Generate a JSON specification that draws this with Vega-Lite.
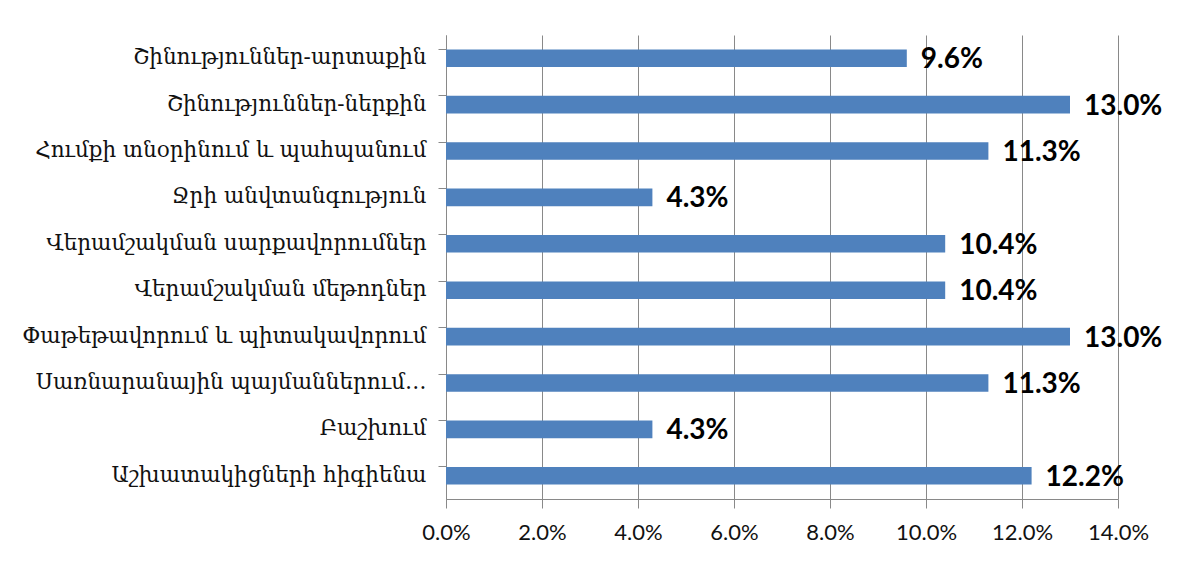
{
  "$schema": "https://vega.github.io/schema/vega-lite/v6.json",
  "width": 672,
  "height": 464,
  "autosize": {"type": "none"},
  "padding": {"left": 446, "top": 35, "right": 66, "bottom": 63},
  "background": "#ffffff",
  "data": {
    "values": [
      {"category": "Շինություններ-արտաքին", "value": 0.096},
      {"category": "Շինություններ-ներքին", "value": 0.130},
      {"category": "Հումքի տնօրինում և պահպանում", "value": 0.113},
      {"category": "Ջրի անվտանգություն", "value": 0.043},
      {"category": "Վերամշակման սարքավորումներ", "value": 0.104},
      {"category": "Վերամշակման մեթոդներ", "value": 0.104},
      {"category": "Փաթեթավորում և պիտակավորում", "value": 0.130},
      {"category": "Սառնարանային պայմաններում…", "value": 0.113},
      {"category": "Բաշխում", "value": 0.043},
      {"category": "Աշխատակիցների հիգիենա", "value": 0.122}
    ]
  },
  "config": {
    "view": {"stroke": null},
    "axis": {"domainColor": "#898989", "tickColor": "#898989", "gridColor": "#898989"}
  },
  "encoding": {
    "y": {
      "field": "category",
      "type": "nominal",
      "sort": null,
      "scale": {"paddingInner": 0.62, "paddingOuter": 0.31},
      "axis": {
        "title": null,
        "bandPosition": 0,
        "tickSize": 8,
        "labelPadding": 12,
        "labelFont": "DejaVu Serif",
        "labelFontSize": 21.5,
        "labelColor": "#111111",
        "labelLimit": 440,
        "grid": false
      }
    },
    "x": {
      "field": "value",
      "type": "quantitative",
      "scale": {"domain": [0, 0.14], "nice": false},
      "axis": {
        "title": null,
        "format": ".1%",
        "values": [0, 0.02, 0.04, 0.06, 0.08, 0.1, 0.12, 0.14],
        "tickSize": 9,
        "labelPadding": 14,
        "labelFlush": false,
        "labelOverlap": false,
        "labelBound": false,
        "labelFont": "Lato",
        "labelFontSize": 22,
        "labelColor": "#111111",
        "grid": true,
        "gridWidth": 1
      }
    }
  },
  "layer": [
    {"mark": {"type": "bar", "color": "#4F81BD"}},
    {
      "mark": {"type": "text", "align": "left", "baseline": "middle", "dx": 14, "dy": 2, "font": "Lato", "fontWeight": "bold", "fontSize": 28, "color": "#000000"},
      "encoding": {"text": {"field": "value", "type": "quantitative", "format": ".1%"}}
    }
  ]
}
